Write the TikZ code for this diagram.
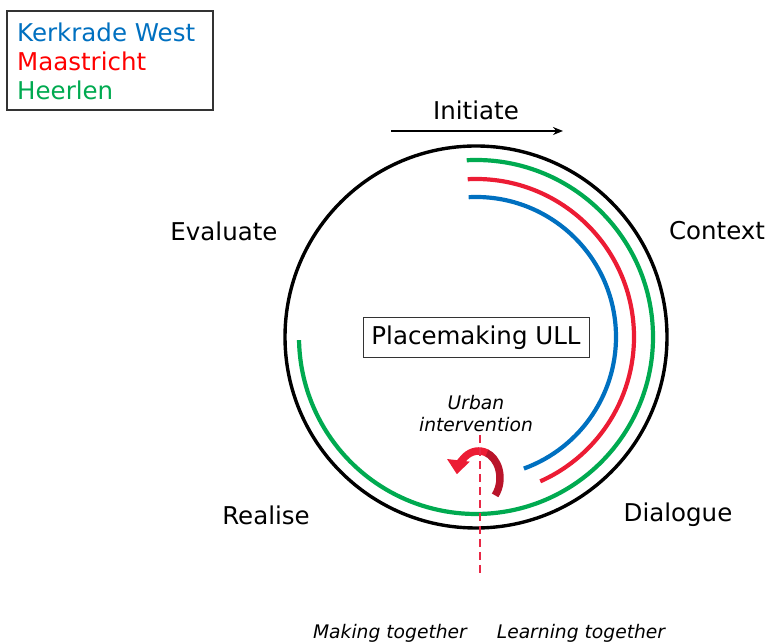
\documentclass[tikz,border=0pt]{standalone}
\usepackage{fontspec}
\setmainfont{DejaVu Sans}
\usetikzlibrary{arrows.meta}
\definecolor{kblue}{RGB}{0,112,192}
\definecolor{mred}{RGB}{236,28,52}
\definecolor{mredtxt}{RGB}{255,0,0}
\definecolor{hgreen}{RGB}{0,170,80}
\definecolor{darkred}{RGB}{185,20,42}
\definecolor{dashred}{RGB}{232,40,70}
\tikzset{
  big/.style={font=\fontsize{24.5bp}{29bp}\selectfont, inner sep=0pt},
  small/.style={font=\fontsize{18.7bp}{22bp}\selectfont\itshape, inner sep=0pt, align=center},
  legendtxt/.style={font=\fontsize{24.5bp}{29bp}\selectfont, inner sep=0pt, anchor=west},
  ring/.style={line width=3.4bp},
  phase/.style={line width=4.2bp},
}
\begin{document}
\begin{tikzpicture}[x=1bp,y=1bp]
\useasboundingbox (0,0) rectangle (768,644);
% legend
\node[draw=black!80, line width=1.2bp, minimum width=206bp, minimum height=99bp, inner sep=0pt] (legend) at (110,583.5) {};
\node[legendtxt, text=kblue] (lk) at (17,612) {Kerkrade West};
\node[legendtxt, text=mredtxt] (lm) at (17,583) {Maastricht};
\node[legendtxt, text=hgreen] (lh) at (17,554) {Heerlen};
% circle
\coordinate (c) at (476,307);
\draw[ring] (c) circle[radius=191];
% arcs
\draw[phase, hgreen] (c) ++(93:177) arc[start angle=93, end angle=-179, radius=177];
\draw[phase, mred] (c) ++(93:158) arc[start angle=93, end angle=-66, radius=158];
\draw[phase, kblue] (c) ++(93:140) arc[start angle=93, end angle=-70, radius=140];
% labels
\node[big] (init) at (476,534) {Initiate};
\coordinate (ia) at (391,513);
\coordinate (ib) at (563,513);
\draw[line width=1.6bp, -{Stealth[length=10bp,width=8bp]}] (ia) -- (ib);
\node[big] (ctx) at (717,413) {Context};
\node[big] (eval) at (224,413) {Evaluate};
\node[big] (real) at (266,129) {Realise};
\node[big] (dia) at (678,129) {Dialogue};
\node[big, draw=black!80, line width=1bp, minimum width=226bp, minimum height=40bp] (ull) at (476,306) {Placemaking ULL};
\node[small] (urban) at (476,230) {Urban\\intervention};
\node[small] (make) at (390,11) {Making together};
\node[small] (learn) at (581,11) {Learning together};
% curved arrow
\coordinate (ac) at (479,166);
\draw[darkred, line width=7.5bp] (ac) ++(-40:21 and 27) arc[start angle=-40, end angle=70, x radius=21, y radius=27];
\draw[mred, line width=7.5bp, -{Triangle[length=14bp,width=22bp]}] (ac) ++(68:21 and 27) arc[start angle=68, end angle=172, x radius=22, y radius=27];
% dashed line
\coordinate (d1) at (480,209);
\coordinate (d2) at (480,66);
\draw[dashred, line width=2bp, dash pattern=on 8bp off 5bp] (d1) -- (d2);
\end{tikzpicture}
\end{document}
